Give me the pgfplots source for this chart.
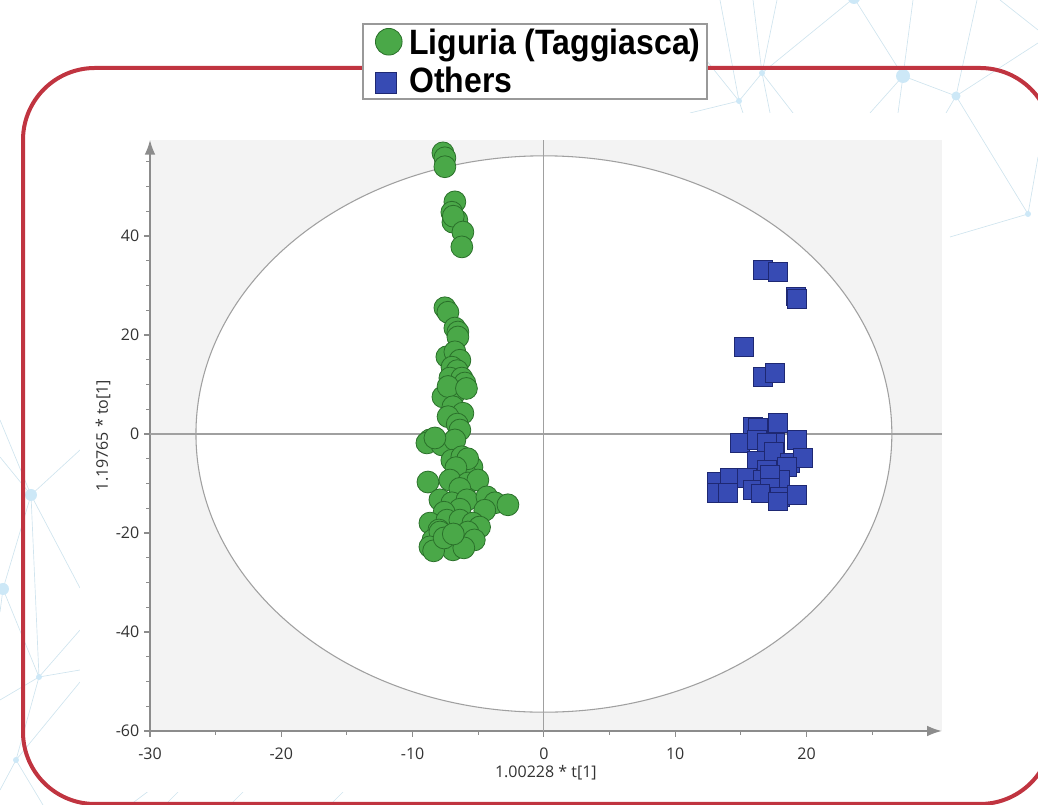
\documentclass[border=0pt]{standalone}
\usepackage{pgfplots}
\pgfplotsset{compat=1.18}
\usetikzlibrary{arrows.meta}
\usepackage{fontspec}
\setmainfont{Liberation Sans}
\newfontfamily\tickfont{Open Sans}
\definecolor{gfill}{RGB}{74,168,72}
\definecolor{gedge}{RGB}{42,112,42}
\definecolor{bfill}{RGB}{55,75,180}
\definecolor{bedge}{RGB}{30,40,115}
\definecolor{framered}{RGB}{192,52,64}
\definecolor{net}{RGB}{208,228,238}
\definecolor{netdot}{RGB}{205,232,247}
\definecolor{bggray}{RGB}{243,243,243}
\definecolor{axgray}{RGB}{140,140,140}
\definecolor{crossgray}{RGB}{160,160,160}

\pgfplotstableread{
x y
-7.69 56.8
-7.54 55.8
-7.54 54.0
-6.78 46.9
-7.01 44.8
-6.63 43.2
-6.93 42.8
-6.90 44.0
-6.17 40.8
-6.25 37.8
-7.54 25.5
-7.31 24.6
-6.78 21.4
-6.55 20.6
-6.55 19.6
-7.39 15.6
-6.78 16.6
-6.40 14.9
-7.00 13.5
-6.60 12.8
-7.16 11.3
-6.25 11.3
-6.78 8.3
-6.02 10.3
-7.69 7.5
-7.30 9.6
-5.90 9.2
-6.93 5.5
-6.17 4.2
-7.30 3.5
-6.60 2.0
-6.40 0.8
-8.68 -1.2
-8.91 -1.8
-7.77 -2.2
-6.78 -1.2
-8.30 -0.8
-7.01 -5.3
-6.25 -4.6
-5.48 -6.7
-6.02 -7.9
-5.80 -5.0
-6.70 -6.8
-8.83 -9.7
-7.16 -9.3
-5.79 -9.9
-5.03 -9.3
-6.40 -11.0
-7.92 -13.3
-7.01 -13.9
-5.86 -13.3
-4.34 -12.7
-3.73 -13.9
-2.74 -14.3
-4.50 -15.4
-6.40 -15.2
-7.60 -15.8
-8.68 -18.0
-7.39 -17.4
-6.40 -17.4
-5.41 -18.0
-4.90 -18.8
-8.00 -19.4
-8.45 -21.4
-7.16 -22.4
-6.17 -21.4
-7.92 -19.8
-5.79 -19.8
-5.30 -21.4
-8.68 -22.8
-6.93 -23.4
-8.40 -23.6
-6.10 -23.0
-7.60 -21.0
-6.90 -20.2
}\liguria

\pgfplotstableread{
x y
16.68 33.1
17.82 32.7
19.20 27.8
19.27 27.3
15.23 17.6
16.68 11.5
17.59 12.3
15.92 1.4
17.82 2.2
16.30 1.2
14.93 -1.8
16.22 -1.2
17.59 -1.8
19.27 -1.2
16.98 -1.8
16.22 -5.3
17.59 -4.6
17.50 -3.5
18.74 -5.9
19.73 -4.8
16.98 -7.3
18.50 -6.7
13.18 -9.7
14.17 -8.9
15.46 -8.9
16.68 -9.3
17.97 -9.3
17.20 -8.3
13.18 -11.9
14.01 -11.9
15.92 -11.3
17.21 -10.9
16.50 -12.0
17.97 -12.7
19.27 -12.3
17.80 -13.6
}\others

\begin{document}
\begin{tikzpicture}
\useasboundingbox (0,0) rectangle (778.5pt,603.75pt);
\clip (0,0) rectangle (778.5pt,603.75pt);
% decorative network background (pixel coordinates, y downward)
\begin{scope}[shift={(0pt,603.75pt)},x=0.75pt,y=-0.75pt]
  \begin{scope}[draw=net,line width=0.5pt]
    \draw (854,-2)--(903,76) (854,-2)--(762,73) (762,73)--(753,0) (762,73)--(777,0)
          (762,73)--(739,101) (739,101)--(690,113) (762,73)--(770,113) (762,73)--(793,113)
          (739,101)--(743,113) (903,76)--(913,0) (903,76)--(870,113) (903,76)--(898,113)
          (903,76)--(956,96) (956,96)--(977,0) (956,96)--(1038,43) (956,96)--(946,113)
          (956,96)--(1028,214) (1028,214)--(950,237) (1028,214)--(1038,157)
          (720,0)--(739,101) (690,40)--(739,101) (1000,0)--(1038,30);
    \draw (0,457)--(31,495) (31,495)--(80,450) (31,495)--(80,588) (31,495)--(3,589)
          (31,495)--(39,677) (3,589)--(39,677) (3,589)--(0,612) (39,677)--(80,670)
          (39,677)--(80,630) (39,677)--(16,760) (16,760)--(80,682) (16,760)--(43,805)
          (16,760)--(0,790) (0,700)--(39,677) (0,420)--(31,495);
    \draw (130,805)--(150,790) (165,805)--(180,790) (230,805)--(245,790) (330,805)--(345,790);
  \end{scope}
  \fill[netdot] (854,-2) circle (6) (762,73) circle (3) (903,76) circle (7)
        (956,96) circle (4.5) (739,101) circle (3) (1028,214) circle (3)
        (31,495) circle (6) (3,589) circle (6) (39,677) circle (3) (16,760) circle (3);
  \fill[white] (80,113) rectangle (948,792);
  \draw[framered,line width=3pt,rounded corners=54pt] (23,68) rectangle (1052,804);
\end{scope}

\begin{axis}[
  at={(112.5pt,55.5pt)}, anchor=south west,
  scale only axis, width=593.8pt, height=443.25pt,
  xmin=-30, xmax=30.3, ymin=-60, ymax=59.4,
  axis x line=bottom, axis y line=left,
  axis line style={draw=axgray, line width=1.1pt},
  x axis line style={-{Latex[length=11pt,width=8pt]}},
  y axis line style={-{Latex[length=11pt,width=8pt]}},
  axis background/.style={fill=bggray},
  xtick={-30,-20,...,20}, minor xtick={-25,-15,...,25},
  ytick={-60,-40,...,40}, minor ytick={-55,-50,...,55},
  tick align=outside, major tick length=4.5pt, minor tick length=3pt,
  every tick/.style={draw=axgray, line width=0.8pt},
  /pgf/number format/assume math mode=true,
  tick label style={font=\tickfont\fontsize{12}{14}\selectfont, text=black!80},
  xticklabel style={yshift=-5pt},
  xlabel={1.00228 * t[1]}, ylabel={1.19765 * to[1]},
  label style={font=\tickfont\fontsize{12}{14}\selectfont, text=black!80},
  xlabel style={at={(axis description cs:0.5,-0.0711)}, anchor=center},
  ylabel style={at={(axis description cs:-0.0594,0.5)}, anchor=center},
  clip=false,
  legend cell align=left,
  legend style={at={(0.2678,1.1975)}, anchor=north west, draw=gray!80, line width=1.1pt,
    fill=white, font=\fontsize{24}{26}\selectfont\bfseries, text=black,
    inner xsep=3pt, inner ysep=1.5pt, row sep=4pt},
]
\draw[fill=white, draw=crossgray, line width=0.8pt] (axis cs:0,0) ellipse [x radius=26.5, y radius=56.2];
\draw[crossgray, line width=0.8pt] (axis cs:0,-60) -- (axis cs:0,59.4);
\draw[crossgray, line width=0.8pt] (axis cs:-30,0) -- (axis cs:30.3,0);
\addplot[only marks, mark=*, mark size=8.2pt, mark options={draw=gedge, fill=gfill, line width=0.6pt},
  legend image code/.code={\path[draw=none,fill=none] (-16.5pt,0pt) -- (13.5pt,0pt);
    \draw[draw=gedge,fill=gfill,line width=0.6pt] (0pt,0.5pt) circle (10pt);}]
  table[x=x,y=y] {\liguria};
\addlegendentry{\scalebox{1}[1.1]{Liguria (Taggiasca)}}
\addplot[only marks, mark=square*, mark size=7pt, mark options={draw=bedge, fill=bfill, line width=0.6pt},
  legend image code/.code={\path[draw=none,fill=none] (-16.5pt,0pt) -- (13.5pt,0pt);
    \draw[draw=bedge,fill=bfill,line width=0.4pt] (-10.1pt,-9.2pt) rectangle (5.6pt,6.5pt);}]
  table[x=x,y=y] {\others};
\addlegendentry{\scalebox{1}[1.1]{Others}}
\end{axis}
\end{tikzpicture}
\end{document}
